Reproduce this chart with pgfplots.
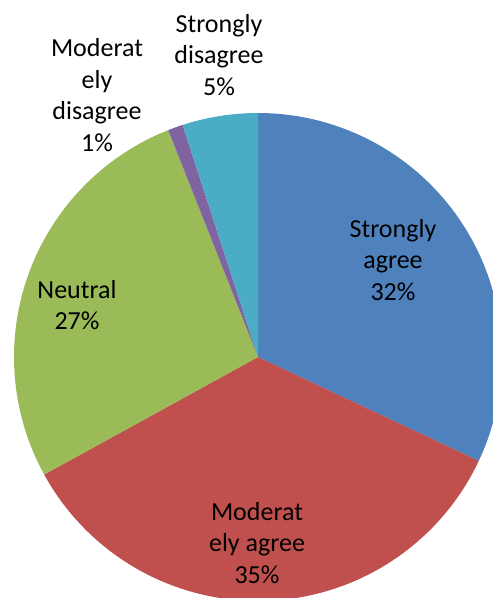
\documentclass[border=0pt]{standalone}
\usepackage{pgfplots}
\pgfplotsset{compat=1.18}
\usepackage{fontspec}
\setmainfont{Carlito}

\definecolor{sa}{HTML}{4F81BD}
\definecolor{ma}{HTML}{C0504D}
\definecolor{ne}{HTML}{9BBB59}
\definecolor{md}{HTML}{8064A2}
\definecolor{sd}{HTML}{4BACC6}

% pie centre and radius, in the axis units (one unit = one pixel of the reference)
\def\cx{258}
\def\cy{241}
\def\rr{244}
\def\cum{0}

% one slice per call: colour, share in percent; slices run clockwise from 12 o'clock
\newcommand\slice[2]{%
  \pgfmathsetmacro\aa{90-3.6*\cum}%
  \pgfmathsetmacro\bb{90-3.6*(\cum+#2)}%
  \edef\doit{\noexpand\addplot[fill=#1, draw=none, mark=none, domain=\bb:\aa, samples=90]
    ({\cx+\rr*cos(x)},{\cy+\rr*sin(x)}) -- (axis cs:\cx,\cy) -- cycle;}%
  \doit
  \pgfmathsetmacro\tmp{\cum+#2}%
  \global\let\cum\tmp}

\begin{document}
\begin{tikzpicture}
  \begin{axis}[
    name=ax,
    hide axis,
    scale only axis,
    width=493pt, height=598pt,
    xmin=0, xmax=493,
    ymin=0, ymax=598,
    clip=true,
    ]
    \slice{sa}{32}
    \slice{ma}{35}
    \slice{ne}{27}
    \slice{md}{1}
    \slice{sd}{5}

    \begin{scope}[every node/.style={align=center, text=black, font=\fontsize{26}{31.5}\selectfont}]
      \node at (axis cs:393,338) {Strongly\\agree\\32\%};
      \node at (axis cs:257,55) {Moderat\\ely agree\\35\%};
      \node at (axis cs:77,293) {Neutral\\27\%};
      \node at (axis cs:97,503) {Moderat\\ely\\disagree\\1\%};
      \node at (axis cs:219,543) {Strongly\\disagree\\5\%};
    \end{scope}
  \end{axis}
  \pgfresetboundingbox
  \useasboundingbox (ax.south west) rectangle (ax.north east);
\end{tikzpicture}
\end{document}
